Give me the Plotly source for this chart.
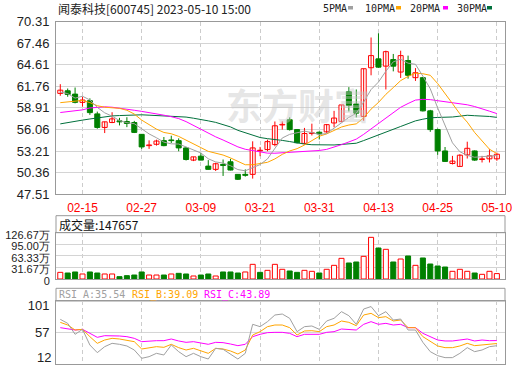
import plotly.graph_objects as go

W, H = 520, 365

# ---------------- data ----------------
tick_pos = [3, 11, 19, 27, 35, 43, 51, 59]
tick_text = ["02-15", "02-27", "03-09", "03-21", "03-31", "04-13", "04-25", "05-10"]

price_ticks = [47.51, 50.36, 53.21, 56.06, 58.91, 61.76, 64.61, 67.46, 70.31]
price_tick_text = ["47.51", "50.36", "53.21", "56.06", "58.91", "61.76", "64.61", "67.46", "70.31"]
vol_ticks = [0, 31.67, 63.33, 95.00, 126.67]
vol_tick_text = ["0", "31.67万", "63.33万", "95.00万", "126.67万"]
rsi_ticks = [57, 101]
rsi_tick_text = ["57", "101"]
rsi_low_tick = 12

open_ = [60.82, 61.17, 60.73, 59.64, 59.86, 58.12, 56.33, 56.98, 57.20, 57.11,
         56.98, 55.42, 53.93, 54.11, 54.59, 54.68, 54.59, 53.63, 52.02, 52.54,
         51.23, 50.80, 51.45, 51.80, 50.14, 50.14, 50.14, 53.24, 53.41, 54.07,
         56.66, 57.35, 56.05, 54.23, 55.53, 55.70, 55.75, 56.92, 57.13, 61.04,
         59.43, 57.79, 64.21, 65.38, 64.42, 65.29, 63.64, 65.16, 62.90, 62.90,
         58.52, 56.05, 53.23, 51.58, 51.19, 52.71, 53.23, 52.10, 52.19, 52.19]
high = [62.04, 61.47, 61.60, 60.38, 60.17, 58.42, 57.10, 58.34, 57.60, 57.68,
        57.20, 55.45, 54.63, 54.72, 55.07, 55.24, 54.89, 53.76, 52.45, 52.98,
        52.02, 51.67, 52.10, 52.19, 50.14, 50.80, 54.50, 53.76, 54.72, 57.12,
        57.13, 57.66, 56.05, 56.27, 56.83, 55.83, 56.79, 58.52, 59.30, 61.65,
        61.34, 64.08, 68.20, 68.76, 66.46, 66.03, 66.46, 65.81, 64.16, 62.99,
        58.65, 56.18, 53.75, 52.58, 52.80, 54.45, 53.30, 52.58, 53.45, 53.01]
low = [60.51, 60.38, 59.51, 59.08, 57.99, 56.16, 55.59, 56.90, 56.60, 56.37,
       55.59, 53.50, 53.50, 53.93, 53.85, 54.28, 53.19, 51.97, 51.89, 52.02,
       50.80, 50.58, 49.93, 50.67, 49.40, 49.84, 49.58, 52.54, 53.19, 53.85,
       56.05, 55.92, 54.23, 54.10, 55.27, 54.75, 55.62, 56.35, 57.00, 58.44,
       57.66, 57.22, 63.21, 64.21, 61.34, 63.73, 62.86, 62.77, 62.47, 58.44,
       55.75, 52.71, 51.80, 51.45, 51.19, 52.23, 51.93, 51.71, 51.71, 51.93]
close = [61.25, 60.69, 59.64, 59.95, 58.29, 56.33, 57.07, 57.46, 57.07, 56.85,
         55.68, 53.76, 54.02, 54.54, 53.93, 54.59, 53.63, 52.10, 52.45, 52.02,
         50.80, 51.54, 51.32, 50.71, 49.49, 50.01, 53.63, 53.32, 54.46, 56.55,
         56.74, 56.05, 54.31, 55.53, 55.62, 55.49, 56.70, 57.57, 59.30, 59.22,
         58.22, 64.08, 65.81, 64.29, 66.33, 64.42, 65.81, 63.21, 63.55, 58.52,
         56.05, 53.23, 51.85, 51.89, 52.67, 53.58, 52.02, 52.19, 52.58, 52.80]

volume = [18.2, 16.4, 19.2, 13.7, 19.2, 16.4, 13.7, 13.7, 6.4, 9.1,
          10.9, 19.2, 10.9, 10.9, 10.9, 13.7, 15.5, 13.7, 8.2, 10.9,
          13.7, 8.2, 19.2, 19.2, 16.4, 19.2, 40.1, 18.2, 23.7, 40.1,
          26.5, 21.9, 18.2, 23.7, 21.0, 16.4, 26.5, 37.4, 56.5, 43.8,
          46.5, 62.0, 114.0, 84.8, 81.2, 46.5, 54.7, 62.9, 37.4, 57.5,
          41.0, 35.6, 32.8, 21.0, 26.5, 21.0, 16.4, 12.8, 21.0, 14.77]

ma5 = [61.0, 60.8, 60.2, 60.45, 59.96, 58.98, 58.26, 57.82, 57.24, 56.96,
       56.83, 56.16, 55.48, 54.97, 54.39, 54.17, 54.14, 53.76, 53.34, 52.96,
       52.20, 51.78, 51.63, 51.28, 50.77, 50.61, 51.03, 51.43, 52.18, 53.59,
       54.94, 55.42, 55.62, 55.84, 55.65, 55.40, 55.53, 56.18, 56.94, 57.66,
       58.20, 59.68, 61.33, 62.32, 63.75, 64.99, 65.33, 64.81, 64.66, 63.10,
       61.43, 58.91, 56.65, 54.30, 53.13, 52.64, 52.40, 52.47, 52.61, 52.63]
ma10 = [59.6, 59.7, 59.8, 59.9, 59.6, 59.2, 59.0, 58.95, 58.85, 58.6,
        58.1, 57.3, 56.65, 56.11, 55.67, 55.50, 55.15, 54.62, 54.16, 53.67,
        53.18, 52.96, 52.69, 52.31, 51.87, 51.41, 51.41, 51.53, 51.73, 52.18,
        52.78, 53.23, 53.53, 54.01, 54.62, 55.17, 55.48, 55.90, 56.39, 56.65,
        56.80, 57.60, 58.75, 59.63, 60.70, 61.59, 62.51, 63.07, 63.49, 63.42,
        63.21, 62.12, 60.72, 59.48, 58.12, 57.03, 55.66, 54.55, 53.46, 52.88]
ma20 = [58.3, 58.4, 58.5, 58.65, 58.9, 59.0, 59.05, 59.0, 58.9, 58.75,
        58.6, 58.45, 58.3, 58.15, 57.95, 57.75, 57.5, 57.1, 56.6, 56.07,
        55.54, 55.09, 54.67, 54.21, 53.77, 53.45, 53.28, 53.07, 52.94, 52.93,
        52.98, 53.10, 53.11, 53.16, 53.24, 53.29, 53.44, 53.72, 54.06, 54.42,
        54.79, 55.42, 56.14, 56.82, 57.66, 58.38, 58.99, 59.49, 59.94, 60.04,
        60.00, 59.86, 59.74, 59.56, 59.41, 59.32, 59.09, 58.82, 58.48, 58.16]
ma30 = [56.8, 57.0, 57.15, 57.3, 57.45, 57.6, 57.75, 57.85, 57.9, 57.95,
        58.0, 58.0, 57.95, 57.9, 57.9, 57.85, 57.8, 57.7, 57.55, 57.4,
        57.2, 57.0, 56.75, 56.4, 55.95, 55.6, 55.25, 55.0, 54.85, 54.77,
        54.62, 54.47, 54.29, 54.14, 54.05, 54.02, 54.01, 54.02, 54.09, 54.17,
        54.25, 54.60, 54.99, 55.32, 55.73, 56.06, 56.46, 56.83, 57.20, 57.42,
        57.60, 57.65, 57.67, 57.71, 57.82, 57.94, 57.88, 57.84, 57.78, 57.66]

rsi_a = [78.3, 71.8, 54.0, 62.1, 36.7, 24.3, 34.0, 39.4, 37.8, 35.1,
         28.6, 15.1, 17.8, 23.2, 20.5, 36.7, 25.9, 17.8, 23.2, 17.8,
         14.0, 31.3, 29.7, 21.6, 14.0, 23.2, 70.2, 66.4, 74.5, 85.3,
         86.9, 79.9, 58.3, 66.4, 67.5, 62.1, 75.6, 79.9, 90.7, 84.2,
         70.2, 95.0, 99.0, 84.2, 90.7, 77.2, 78.8, 61.0, 61.0, 41.0,
         25.9, 19.4, 16.2, 16.2, 23.2, 32.4, 25.9, 28.6, 34.0, 35.54]
rsi_b = [73.4, 69.1, 61.0, 62.1, 50.2, 39.4, 44.8, 47.5, 46.4, 44.8,
         42.1, 30.2, 32.4, 34.0, 32.9, 37.8, 32.4, 28.6, 31.3, 27.5,
         23.2, 31.3, 30.2, 27.0, 22.1, 28.6, 52.9, 58.3, 66.4, 69.1,
         69.1, 64.8, 52.9, 59.4, 59.9, 58.3, 66.4, 69.1, 75.6, 73.4,
         68.0, 85.3, 88.0, 81.0, 82.6, 75.6, 77.2, 64.8, 64.8, 50.2,
         42.1, 35.1, 32.4, 32.4, 35.1, 39.4, 35.6, 36.7, 38.9, 39.09]
rsi_c = [64.8, 62.6, 61.0, 62.1, 55.6, 49.1, 51.8, 51.8, 51.3, 50.2,
         47.5, 42.1, 43.2, 43.7, 43.7, 46.4, 43.2, 41.0, 42.1, 40.5,
         37.8, 41.0, 40.5, 38.3, 35.6, 37.8, 50.2, 54.0, 56.7, 57.2,
         57.2, 55.6, 50.2, 54.0, 54.0, 54.0, 57.2, 58.3, 62.6, 62.1,
         61.0, 70.2, 74.5, 70.2, 71.8, 69.1, 70.2, 64.8, 64.8, 55.6,
         50.2, 44.8, 43.2, 43.2, 44.8, 46.4, 43.2, 44.8, 43.7, 43.89]

title_text = "闻泰科技[600745] 2023-05-10 15:00"
vol_header = "成交量:147657"
rsi_labels = ["RSI_A:35.54", "RSI_B:39.09", "RSI_C:43.89"]
ma_names = ["5PMA", "10PMA", "20PMA", "30PMA"]

# ---------------- styles ----------------
RED = "#FF0000"
GREEN = "#008000"
C_MA5 = "#A0A0A0"
C_MA10 = "#FFA500"
C_MA20 = "#FF00FF"
C_MA30 = "#00703C"
BORDER = "#999999"
GRID = "#D4D4D4"
VGRID = "#CCCCCC"
LBL = "#222222"


def px(x):
    return x / W


def py(y):
    return 1 - y / H


n = len(close)
idx = list(range(n))
up = [i for i in idx if close[i] >= open_[i]]
dn = [i for i in idx if close[i] < open_[i]]


def wicks(sel):
    xs, ys = [], []
    for i in sel:
        xs += [i, i, None]
        ys += [low[i], high[i], None]
    return xs, ys


fig = go.Figure()

# wicks
for sel, col in ((up, RED), (dn, GREEN)):
    wx, wy = wicks(sel)
    fig.add_trace(go.Scatter(x=wx, y=wy, mode="lines", line=dict(color=col, width=1),
                             hoverinfo="skip", xaxis="x", yaxis="y"))

# bodies
BW = 0.68
for sel, fill, col in ((up, "#FFFFFF", RED), (dn, GREEN, GREEN)):
    fig.add_trace(go.Bar(
        x=sel,
        base=[min(open_[i], close[i]) for i in sel],
        y=[max(abs(close[i] - open_[i]), 0.04) for i in sel],
        width=BW, marker=dict(color=fill, line=dict(color=col, width=1)),
        hoverinfo="skip", xaxis="x", yaxis="y"))

# moving averages
for vals, col in ((ma30, C_MA30), (ma20, C_MA20), (ma10, C_MA10), (ma5, C_MA5)):
    fig.add_trace(go.Scatter(x=idx, y=vals, mode="lines", line=dict(color=col, width=1),
                             hoverinfo="skip", xaxis="x", yaxis="y"))

# volume
vol_up = [True] + [close[i] >= close[i - 1] for i in range(1, n)]
vu = [i for i in idx if vol_up[i]]
vd = [i for i in idx if not vol_up[i]]
fig.add_trace(go.Bar(x=vu, y=[volume[i] for i in vu], width=BW,
                     marker=dict(color="#FFFFFF", line=dict(color=RED, width=1)),
                     hoverinfo="skip", xaxis="x2", yaxis="y2"))
fig.add_trace(go.Bar(x=vd, y=[volume[i] for i in vd], width=BW,
                     marker=dict(color=GREEN, line=dict(color=GREEN, width=1)),
                     hoverinfo="skip", xaxis="x2", yaxis="y2"))

# RSI
for vals, col in ((rsi_c, C_MA20), (rsi_b, C_MA10), (rsi_a, C_MA5)):
    fig.add_trace(go.Scatter(x=idx, y=vals, mode="lines", line=dict(color=col, width=1),
                             hoverinfo="skip", xaxis="x3", yaxis="y3"))

XR = [-0.58, 60.1]
xdom = [px(56), px(505)]
xcommon = dict(domain=xdom, range=XR, tickvals=tick_pos, ticktext=tick_text,
               showgrid=True, gridcolor=VGRID, griddash="4px,3px", gridwidth=1,
               zeroline=False, showline=True, mirror=True, linecolor=BORDER,
               linewidth=1, ticks="", fixedrange=True, automargin=False)
ycommon = dict(showline=True, mirror=True, linecolor=BORDER, linewidth=1,
               zeroline=False, ticks="", gridcolor=GRID, gridwidth=1,
               fixedrange=True, automargin=False, ticklabelstandoff=3)

fig.update_layout(
    width=W, height=H, autosize=False,
    margin=dict(l=0, r=0, t=0, b=0),
    paper_bgcolor="#FFFFFF", plot_bgcolor="#FFFFFF",
    showlegend=False, barmode="overlay", hovermode=False,
    font=dict(family="Liberation Sans, Arial, sans-serif", size=12, color=LBL),
    xaxis=dict(anchor="y", showticklabels=True, ticklabelstandoff=2,
               tickfont=dict(family="Liberation Sans, Arial, sans-serif", size=12, color=RED),
               **xcommon),
    xaxis2=dict(anchor="y2", showticklabels=False, **xcommon),
    xaxis3=dict(anchor="y3", showticklabels=False, **xcommon),
    yaxis=dict(anchor="x", domain=[py(194.3), py(21.5)], range=[47.51, 70.31],
               tickvals=price_ticks, ticktext=price_tick_text, showgrid=True,
               tickfont=dict(size=13, color=LBL), **ycommon),
    yaxis2=dict(anchor="x2", domain=[py(279), py(232.7)], range=[0, 126.67],
                tickvals=vol_ticks, ticktext=vol_tick_text, showgrid=True,
                ticklabelshift=2, ticklabeloverflow="allow",
                tickfont=dict(size=11, color=LBL), **ycommon),
    yaxis3=dict(anchor="x3", domain=[py(364), py(301)], range=[5.9, 108],
                tickvals=rsi_ticks, ticktext=rsi_tick_text, showgrid=False,
                tickfont=dict(size=13, color=LBL), **ycommon),
)

shapes = [
    # header boxes for the volume and RSI panels
    dict(type="rect", xref="paper", yref="paper", x0=px(56), x1=px(505),
         y0=py(232.7), y1=py(215.7), line=dict(color=BORDER, width=1), layer="below"),
    dict(type="rect", xref="paper", yref="paper", x0=px(56), x1=px(505),
         y0=py(301), y1=py(288.3), line=dict(color=BORDER, width=1), layer="below"),
    # RSI mid line
    dict(type="line", xref="x3 domain", yref="y3", x0=0, x1=1, y0=57, y1=57,
         line=dict(color=GRID, width=1), layer="below"),
]

annotations = [
    dict(text=title_text, xref="paper", yref="paper", x=px(56), y=py(8),
         xanchor="left", yanchor="middle", showarrow=False,
         font=dict(family="Noto Sans CJK SC", size=12, color=LBL)),
    dict(text=vol_header, xref="paper", yref="paper", x=px(57), y=py(224),
         xanchor="left", yanchor="middle", showarrow=False,
         font=dict(family="Noto Sans CJK SC", size=12, color="#111111")),
    dict(text="<b>东方财富</b>", xref="paper", yref="paper", x=px(298), y=py(104),
         xanchor="center", yanchor="middle", showarrow=False,
         font=dict(family="Noto Sans CJK SC", size=36, color="rgba(200,200,200,0.45)")),
    # lowest RSI tick label, kept inside the panel like the reference
    dict(text=str(rsi_low_tick), xref="paper", yref="y3", x=px(53), y=rsi_low_tick,
         yshift=3, xanchor="right", yanchor="middle", showarrow=False,
         font=dict(size=13, color=LBL)),
]

# RSI header labels
for txt, xx, col in zip(rsi_labels, (57, 130, 201.7), (C_MA5, C_MA10, C_MA20)):
    annotations.append(dict(text=txt, xref="paper", yref="paper", x=px(xx), y=py(294.5),
                            xanchor="left", yanchor="middle", showarrow=False,
                            font=dict(family="DejaVu Sans Mono", size=10, color=col)))

# MA legend
for name, xt, xs, col in zip(ma_names, (321, 363, 408, 455), (348, 396, 443, 487),
                             (C_MA5, C_MA10, C_MA20, C_MA30)):
    annotations.append(dict(text=name, xref="paper", yref="paper", x=px(xt), y=py(8),
                            xanchor="left", yanchor="middle", showarrow=False,
                            font=dict(family="DejaVu Sans Mono", size=10, color=LBL)))
    shapes.append(dict(type="rect", xref="paper", yref="paper", x0=px(xs), x1=px(xs + 5),
                       y0=py(9.5), y1=py(6), fillcolor=col, line=dict(width=0)))

fig.update_layout(shapes=shapes, annotations=annotations)

fig.write_html("out.html")
